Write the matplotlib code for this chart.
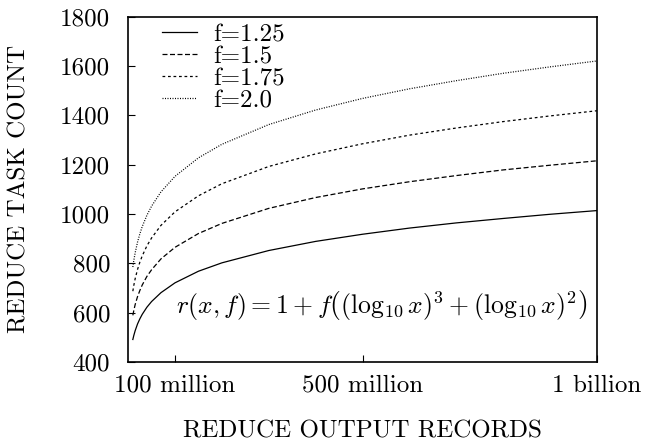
import matplotlib
matplotlib.use("Agg")
import matplotlib.pyplot as plt

plt.rcParams['font.family'] = 'serif'
plt.rcParams['font.serif'] = ['cmr10']
plt.rcParams['mathtext.fontset'] = 'cm'
plt.rcParams['axes.formatter.use_mathtext'] = True

# reduce output records (millions) and task counts
records_m = [10, 12, 15, 20, 25, 30, 40, 50, 70, 100, 150, 200, 300, 400,
             500, 600, 700, 800, 900, 1000]
f125 = [491, 507, 527, 554, 575, 593, 622, 645, 681, 721, 768, 802, 852, 889,
        918, 943, 964, 982, 999, 1014]
f150 = [589, 608, 633, 665, 690, 712, 747, 774, 818, 865, 921, 962, 1023, 1067,
        1102, 1131, 1156, 1179, 1198, 1216]
f175 = [687, 710, 738, 775, 805, 830, 871, 903, 954, 1009, 1074, 1123, 1193, 1244,
        1285, 1320, 1349, 1375, 1398, 1419]
f200 = [785, 811, 843, 886, 920, 949, 995, 1032, 1090, 1153, 1228, 1283, 1363, 1422,
        1469, 1508, 1541, 1571, 1597, 1621]

series = [('f=1.25', f125, '-'),
          ('f=1.5', f150, (0, (4, 2))),
          ('f=1.75', f175, (0, (2.2, 2.2))),
          ('f=2.0', f200, (0, (0.8, 1.2)))]

xticks = [100, 500, 1000]
xtick_labels = ['100 million', '500 million', '1 billion']
yticks = [400, 600, 800, 1000, 1200, 1400, 1600, 1800]

FS = 18

fig = plt.figure(figsize=(6.64, 4.43), dpi=100)
ax = fig.add_axes([0.193, 0.183, 0.706, 0.779])

for label, vals, ls in series:
    ax.plot(records_m, vals, color='black', linestyle=ls, linewidth=0.9, label=label)

ax.set_xlim(0, 1000)
ax.set_ylim(400, 1800)
ax.set_xticks(xticks)
ax.set_xticklabels(xtick_labels)
ax.set_yticks(yticks)
ax.set_yticklabels([str(v) for v in yticks])
ax.tick_params(direction='in', length=5, width=0.8, labelsize=FS)
ax.tick_params(axis='y', pad=13)
ax.tick_params(axis='x', pad=9)
for s in ax.spines.values():
    s.set_linewidth(1.2)

ax.set_xlabel('REDUCE OUTPUT RECORDS', fontsize=FS)
ax.set_ylabel('REDUCE TASK COUNT', fontsize=FS)
ax.xaxis.set_label_coords(0.5, -0.17)
ax.yaxis.set_label_coords(-0.209, 0.5)

ax.text(0.979, 0.165, r'$r(x,f) = 1 + f\left((\log_{10} x)^3 + (\log_{10} x)^2\right)$',
        transform=ax.transAxes, ha='right', va='center', fontsize=18.5)

ax.legend(loc='upper left', frameon=False, fontsize=FS, handlelength=1.4,
          handletextpad=0.64, labelspacing=-0.02, borderpad=0, borderaxespad=0,
          bbox_to_anchor=(0.0725, 0.98))

fig.savefig('out.png', dpi=100)
